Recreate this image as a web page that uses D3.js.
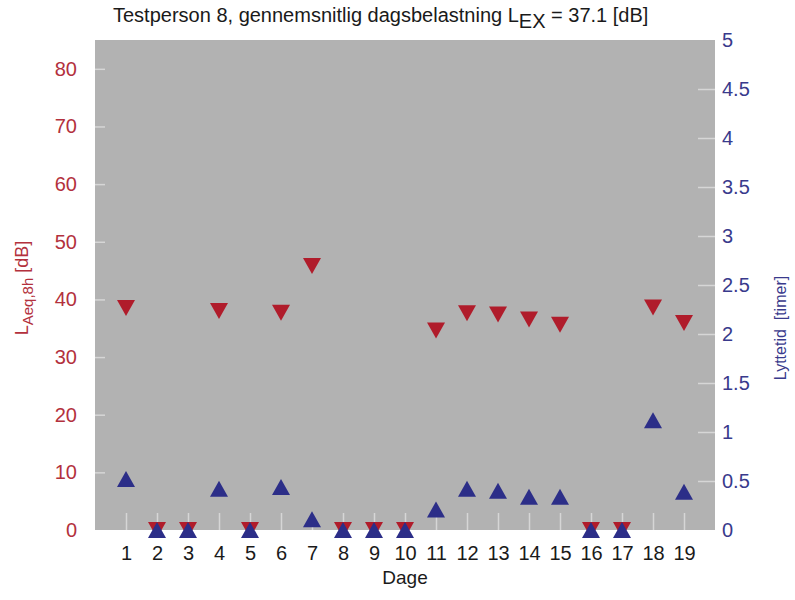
<!DOCTYPE html>
<html>
<head>
<meta charset="utf-8">
<script src="https://cdn.jsdelivr.net/npm/d3@7"></script>
<style>
  body { margin: 0; background: #fff; }
  text { font-family: "Liberation Sans", Arial, sans-serif; }
</style>
</head>
<body>
<div id="chart"></div>
<script>
// days on the x axis
let days = [1,2,3,4,5,6,7,8,9,10,11,12,13,14,15,16,17,18,19]

// L_Aeq,8h per day [dB] (left axis, red down-triangles)
let laeq = [38.5,0,0,38.0,0,37.7,45.8,0,0,0,34.6,37.6,37.4,36.5,35.6,0,0,38.6,35.9]

// listening time per day [hours] (right axis, blue up-triangles)
let lyttetid = [0.52,0,0,0.42,0,0.44,0.11,0,0,0,0.21,0.42,0.40,0.34,0.34,0,0,1.12,0.39]

let leftTicks = [0,10,20,30,40,50,60,70,80]
let rightTicks = [0,0.5,1,1.5,2,2.5,3,3.5,4,4.5,5]

let width = 795, height = 600
let plot = {left: 95, right: 715, top: 40, bottom: 530}

let red = '#b01c2b', blue = '#2c2e88'
let redText = '#b3313d', blueText = '#393a8c'

let svg = d3.select('#chart').append('svg')
    .attr('width', width)
    .attr('height', height)

let xScale = d3.scaleLinear().domain([0, 20]).range([plot.left, plot.right])
let yLeft = d3.scaleLinear().domain([0, 85]).range([plot.bottom, plot.top])
let yRight = d3.scaleLinear().domain([0, 5]).range([plot.bottom, plot.top])

svg.append('rect')
    .attr('x', plot.left)
    .attr('y', plot.top)
    .attr('width', plot.right - plot.left)
    .attr('height', plot.bottom - plot.top)
    .attr('fill', '#b2b2b2')

// left axis
let gl = svg.append('g')
    .attr('class', 'axis')
    .attr('transform', 'translate(' + plot.left + ',0)')
    .call(d3.axisLeft(yLeft).tickValues(leftTicks).tickSize(-10).tickPadding(18))
gl.selectAll('text').attr('fill', redText).attr('font-size', 20)

// right axis
let gr = svg.append('g')
    .attr('class', 'axis')
    .attr('transform', 'translate(' + plot.right + ',0)')
    .call(d3.axisRight(yRight).tickValues(rightTicks).tickFormat(d3.format('~g')).tickSize(-17).tickPadding(7))
gr.selectAll('text').attr('fill', blueText).attr('font-size', 20)

// bottom axis
let gb = svg.append('g')
    .attr('class', 'axis')
    .attr('transform', 'translate(0,' + plot.bottom + ')')
    .call(d3.axisBottom(xScale).tickValues(days).tickSize(-17).tickPadding(16))
gb.selectAll('text').attr('fill', '#1a1a1a').attr('font-size', 20)

svg.selectAll('.axis .domain').remove()
svg.selectAll('.axis line').attr('stroke', '#d6d6d6').attr('stroke-width', 1.5)
// no edge ticks at the corners
gl.selectAll('.tick').filter(function(d){ return d == 0 }).select('line').remove()
gr.selectAll('.tick').filter(function(d){ return d == 0 || d == 5 }).select('line').remove()

// markers
let tw = 18, th = 16
function downTri(x, y){
    return 'M' + (x - tw/2) + ',' + (y - th/2) + 'L' + (x + tw/2) + ',' + (y - th/2) + 'L' + x + ',' + (y + th/2) + 'Z'
}
function upTri(x, y){
    return 'M' + (x - tw/2) + ',' + (y + th/2) + 'L' + (x + tw/2) + ',' + (y + th/2) + 'L' + x + ',' + (y - th/2) + 'Z'
}

svg.append('g').selectAll('path')
    .data(days)
    .enter().append('path')
    .attr('d', function(d, i){ return downTri(xScale(d), yLeft(laeq[i])) })
    .attr('fill', red)

svg.append('g').selectAll('path')
    .data(days)
    .enter().append('path')
    .attr('d', function(d, i){ return upTri(xScale(d), yRight(lyttetid[i])) })
    .attr('fill', blue)

// title
let title = svg.append('text')
    .attr('x', 113)
    .attr('y', 22)
    .attr('font-size', 20)
    .attr('fill', '#1a1a1a')
title.append('tspan').text('Testperson 8, gennemsnitlig dagsbelastning L')
title.append('tspan').attr('dy', 6).text('EX')
title.append('tspan').attr('dy', -6).text(' = 37.1 [dB]')

// x axis label
svg.append('text')
    .attr('x', xScale(10))
    .attr('y', 584)
    .attr('text-anchor', 'middle')
    .attr('font-size', 19)
    .attr('fill', '#1a1a1a')
    .text('Dage')

// left y label
let ll = svg.append('text')
    .attr('transform', 'translate(28,288) rotate(-90)')
    .attr('text-anchor', 'middle')
    .attr('font-size', 18)
    .attr('fill', redText)
ll.append('tspan').text('L')
ll.append('tspan').attr('dy', 5).attr('font-size', 15).text('Aeq,8h')
ll.append('tspan').attr('dy', -5).text(' [dB]')

// right y label
svg.append('text')
    .attr('transform', 'translate(786,328) rotate(-90)')
    .attr('text-anchor', 'middle')
    .attr('font-size', 16)
    .attr('fill', blueText)
    .attr('xml:space', 'preserve')
    .text('Lyttetid  [timer]')
</script>
</body>
</html>
